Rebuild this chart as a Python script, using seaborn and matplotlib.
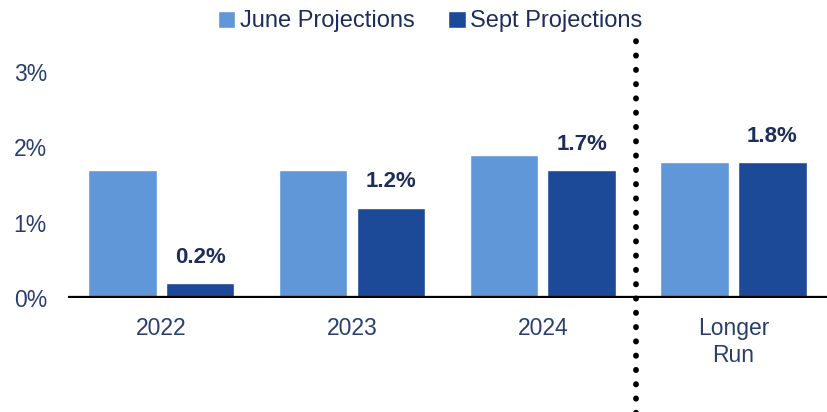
import pandas as pd
import numpy as np
import seaborn as sns
import matplotlib.pyplot as plt

# projections (percent)
periods = ["2022", "2023", "2024", "Longer\nRun"]
june_vals = [1.7, 1.7, 1.9, 1.8]
sept_vals = [0.2, 1.2, 1.7, 1.8]
series_names = ["June Projections", "Sept Projections"]
ytick_vals = [0, 1, 2, 3]

df = pd.DataFrame({
    "period": periods * 2,
    "value": june_vals + sept_vals,
    "series": [series_names[0]] * 4 + [series_names[1]] * 4,
})

sns.set_style("white")
plt.rcParams['font.family'] = ['Liberation Sans', 'DejaVu Sans']

fig = plt.figure(figsize=(8.27, 4.12), dpi=100)
ax = fig.add_axes([0.082, 0.277, 0.918, 0.603])

pal = {"June Projections": "#5f97d8", "Sept Projections": "#1c4a98"}
sns.barplot(data=df, x="period", y="value", hue="series", palette=pal,
            order=periods, hue_order=series_names, gap=0.12, width=0.816,
            saturation=1, ax=ax, legend=True)

# labels only on the sept bars
sept_bars = ax.containers[1]
ax.bar_label(sept_bars, labels=[f"{v:.1f}%" for v in sept_vals], padding=11,
             fontsize=16, fontweight="bold", color="#1f2d5a")

ax.set_xlim(-0.49, 3.49)
ax.set_ylim(0, 3.3)
ax.set_yticks(ytick_vals)
ax.set_yticklabels([f"{v}%" for v in ytick_vals], fontsize=16.5, color="#2a3f6f")
ax.tick_params(axis="x", labelsize=16.5, labelcolor="#2a3f6f", length=0, pad=14)
ax.tick_params(axis="y", length=0, pad=15)
ax.set_xlabel("")
ax.set_ylabel("")
for s in ax.spines.values():
    s.set_visible(False)

ax.axhline(0, color="black", lw=3.8, zorder=5)

# dotted separator before the longer run
ax.plot([2.49, 2.49], [-1.58, 3.5], color="black", lw=4.2,
        linestyle=(0, (0.05, 2.4)), dash_capstyle="round", clip_on=False, zorder=6)

ax.legend(loc="center", bbox_to_anchor=(0.52, 0.948), bbox_transform=fig.transFigure,
          ncol=2, frameon=False, fontsize=17, handlelength=0.75, handleheight=0.75,
          handletextpad=0.2, columnspacing=1.4, labelcolor="#1f2d5a")

fig.savefig("out.png", dpi=100)
